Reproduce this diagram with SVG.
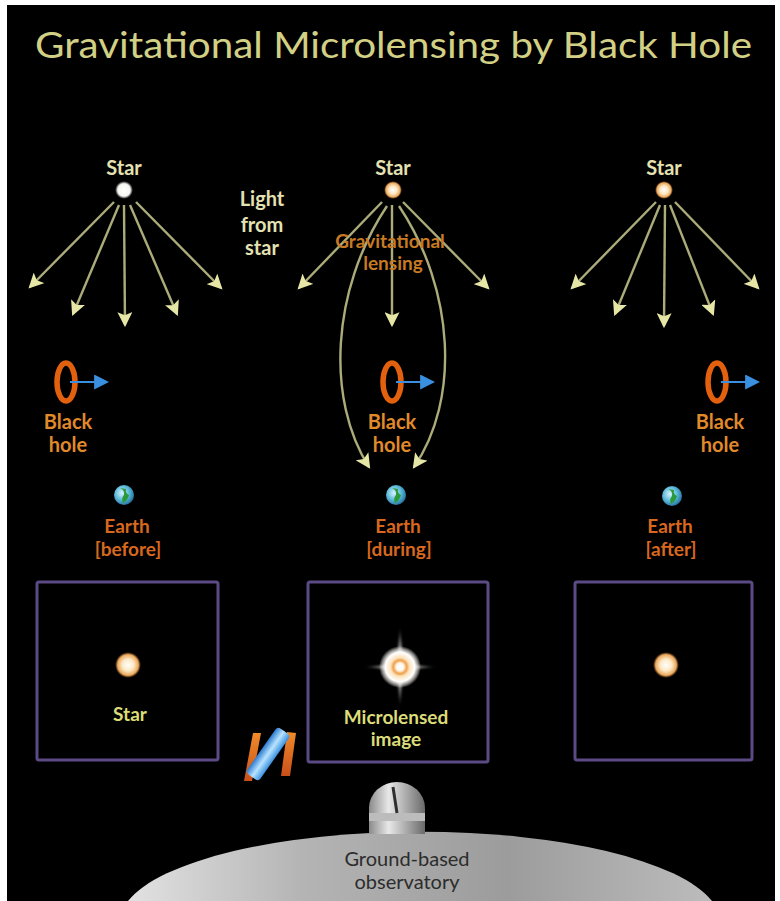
<svg xmlns="http://www.w3.org/2000/svg" width="780" height="901" viewBox="0 0 780 901">
  <defs>
    <style>
      .title { font-family: Lato, "Open Sans", "DejaVu Sans", sans-serif; font-size: 36px; fill: #d2d084; }
      .lbl { font-family: Lato, "Open Sans", "DejaVu Sans", sans-serif; font-weight: bold; text-anchor: middle; }
      .star-lbl { font-size: 20px; fill: #e4e2b2; }
      .bh-lbl { font-size: 20px; fill: #e08a2a; }
      .earth-lbl { font-size: 19px; fill: #d8681e; }
      .lens-lbl { font-size: 19px; fill: #c87a22; }
      .box-lbl { font-size: 19px; fill: #dcdc78; }
      .ray { fill: none; stroke: #acab7a; stroke-width: 2.4; marker-end: url(#tip); }
      .ring { fill: none; stroke: #e2600e; stroke-width: 5.5; }
      .move { stroke: #3a8fe0; stroke-width: 2; marker-end: url(#blueTip); }
      .frame { fill: none; stroke: #5c4a86; stroke-width: 3; }
      .ground-lbl { font-family: Lato, "Open Sans", "DejaVu Sans", sans-serif; font-size: 20px; fill: #2c2c2c; text-anchor: middle; }
    </style>
    <marker id="tip" viewBox="0 0 14 14" refX="12" refY="7" markerWidth="15" markerHeight="15" markerUnits="userSpaceOnUse" orient="auto">
      <path d="M0,0 L14,7 L0,14 L3,7 z" fill="#e6e6a6"/>
    </marker>
    <marker id="blueTip" viewBox="0 0 14 14" refX="12" refY="7" markerWidth="15" markerHeight="15" markerUnits="userSpaceOnUse" orient="auto">
      <path d="M0,0 L14,7 L0,14 z" fill="#3a8fe0"/>
    </marker>
    <radialGradient id="sunGlow" cx="50%" cy="50%" r="50%">
      <stop offset="0" stop-color="#ffffff"/>
      <stop offset="0.45" stop-color="#fde8c4"/>
      <stop offset="0.8" stop-color="#eaa85c"/>
      <stop offset="1" stop-color="#b86a2a" stop-opacity="0"/>
    </radialGradient>
    <radialGradient id="whiteGlow" cx="50%" cy="50%" r="50%">
      <stop offset="0" stop-color="#ffffff"/>
      <stop offset="0.7" stop-color="#f4f4f0"/>
      <stop offset="1" stop-color="#c8c8c0" stop-opacity="0"/>
    </radialGradient>
    <radialGradient id="earthFill" cx="40%" cy="40%" r="60%">
      <stop offset="0" stop-color="#d8f4ff"/>
      <stop offset="0.6" stop-color="#5ab8d8"/>
      <stop offset="1" stop-color="#2a7aa8"/>
    </radialGradient>
    <radialGradient id="burstCore" cx="50%" cy="50%" r="50%">
      <stop offset="0" stop-color="#ffffff"/>
      <stop offset="0.18" stop-color="#fff6e8"/>
      <stop offset="0.32" stop-color="#f0a048"/>
      <stop offset="0.45" stop-color="#fbe2bc"/>
      <stop offset="0.7" stop-color="#ffffff"/>
      <stop offset="0.85" stop-color="#f4f0ea" stop-opacity="0.6"/>
      <stop offset="1" stop-color="#ffffff" stop-opacity="0"/>
    </radialGradient>
    <linearGradient id="spikeV" x1="0" y1="0" x2="0" y2="1">
      <stop offset="0" stop-color="#ffffff" stop-opacity="0"/>
      <stop offset="0.5" stop-color="#ffffff"/>
      <stop offset="1" stop-color="#ffffff" stop-opacity="0"/>
    </linearGradient>
    <linearGradient id="spikeH" x1="0" y1="0" x2="1" y2="0">
      <stop offset="0" stop-color="#ffffff" stop-opacity="0"/>
      <stop offset="0.5" stop-color="#ffffff"/>
      <stop offset="1" stop-color="#ffffff" stop-opacity="0"/>
    </linearGradient>
    <linearGradient id="groundFill" x1="0" y1="0" x2="1" y2="0">
      <stop offset="0" stop-color="#e2e2e2"/>
      <stop offset="0.3" stop-color="#b4b4b4"/>
      <stop offset="0.65" stop-color="#9c9c9c"/>
      <stop offset="1" stop-color="#bcbcbc"/>
    </linearGradient>
    <linearGradient id="domeFill" x1="0" y1="0" x2="1" y2="0">
      <stop offset="0" stop-color="#8a8a8a"/>
      <stop offset="0.35" stop-color="#e8e8e8"/>
      <stop offset="1" stop-color="#6a6a6a"/>
    </linearGradient>
    <linearGradient id="tubeFill" x1="0" y1="0" x2="1" y2="0">
      <stop offset="0" stop-color="#2a7ad0"/>
      <stop offset="0.5" stop-color="#b8e4ff"/>
      <stop offset="1" stop-color="#3a90e0"/>
    </linearGradient>
    <linearGradient id="panelFill" x1="0" y1="0" x2="0" y2="1">
      <stop offset="0" stop-color="#f08a2a"/>
      <stop offset="1" stop-color="#c8501a"/>
    </linearGradient>
    <filter id="soft" x="-50%" y="-50%" width="200%" height="200%">
      <feGaussianBlur stdDeviation="1"/>
    </filter>
  </defs>

  <!-- backdrop -->
  <rect x="0" y="0" width="780" height="901" fill="#ffffff"/>
  <rect x="7" y="5" width="768" height="896" fill="#000000"/>

  <text class="title" x="35" y="58" textLength="717" lengthAdjust="spacingAndGlyphs">Gravitational Microlensing by Black Hole</text>

  <!-- light rays -->
  <g id="connectors">
    <!-- before -->
    <line class="ray" x1="114" y1="202" x2="30" y2="287"/>
    <line class="ray" x1="119" y1="205" x2="73" y2="314"/>
    <line class="ray" x1="124" y1="205" x2="125" y2="325"/>
    <line class="ray" x1="130" y1="205" x2="177" y2="314"/>
    <line class="ray" x1="136" y1="202" x2="221" y2="288"/>
    <!-- during -->
    <line class="ray" x1="382" y1="202" x2="299" y2="288"/>
    <path class="ray" d="M387,206 C331,290 326,400 369,467"/>
    <line class="ray" x1="392" y1="205" x2="392" y2="325"/>
    <path class="ray" d="M399,206 C455,290 460,400 414,467"/>
    <line class="ray" x1="403" y1="202" x2="488" y2="288"/>
    <!-- after -->
    <line class="ray" x1="656" y1="202" x2="572" y2="288"/>
    <line class="ray" x1="660" y1="205" x2="615" y2="314"/>
    <line class="ray" x1="665" y1="205" x2="664" y2="326"/>
    <line class="ray" x1="670" y1="205" x2="713" y2="314"/>
    <line class="ray" x1="675" y1="202" x2="758" y2="288"/>
  </g>

  <g id="star-before">
    <text class="lbl star-lbl" x="124" y="175">Star</text>
    <circle cx="124" cy="190" r="9" fill="url(#whiteGlow)"/>
  </g>
  <g id="star-during">
    <text class="lbl star-lbl" x="393" y="175">Star</text>
    <circle cx="393" cy="190" r="9" fill="url(#sunGlow)"/>
  </g>
  <g id="star-after">
    <text class="lbl star-lbl" x="664" y="175">Star</text>
    <circle cx="664" cy="190" r="9" fill="url(#sunGlow)"/>
  </g>

  <g id="light-label">
    <text class="lbl star-lbl" x="262" y="206">Light</text>
    <text class="lbl star-lbl" x="262" y="232">from</text>
    <text class="lbl star-lbl" x="262" y="255">star</text>
  </g>

  <g id="lensing-label">
    <text class="lbl lens-lbl" x="390" y="248">Gravitational</text>
    <text class="lbl lens-lbl" x="393" y="270">lensing</text>
  </g>

  <!-- black holes -->
  <g id="blackhole-before">
    <ellipse class="ring" cx="66" cy="382" rx="9" ry="19"/>
    <line class="move" x1="70" y1="382" x2="107" y2="382"/>
    <text class="lbl bh-lbl" x="68" y="429">Black</text>
    <text class="lbl bh-lbl" x="68" y="452">hole</text>
  </g>
  <g id="blackhole-during">
    <ellipse class="ring" cx="392" cy="382" rx="9" ry="19"/>
    <line class="move" x1="396" y1="382" x2="433" y2="382"/>
    <text class="lbl bh-lbl" x="392" y="429">Black</text>
    <text class="lbl bh-lbl" x="392" y="452">hole</text>
  </g>
  <g id="blackhole-after">
    <ellipse class="ring" cx="717" cy="382" rx="9" ry="19"/>
    <line class="move" x1="721" y1="382" x2="758" y2="382"/>
    <text class="lbl bh-lbl" x="720" y="429">Black</text>
    <text class="lbl bh-lbl" x="720" y="452">hole</text>
  </g>

  <!-- earth positions -->
  <g id="earth-before">
    <circle cx="124" cy="495" r="10" fill="url(#earthFill)"/>
    <path d="M120,488 q5,2 4,7 q-3,3 -1,8 q5,-3 6,-8 q-4,-2 -3,-6 z" fill="#2a9a3a"/>
    <text class="lbl earth-lbl" x="127" y="533">Earth</text>
    <text class="lbl earth-lbl" x="128" y="556">[before]</text>
  </g>
  <g id="earth-during">
    <circle cx="396" cy="495" r="10" fill="url(#earthFill)"/>
    <path d="M392,488 q5,2 4,7 q-3,3 -1,8 q5,-3 6,-8 q-4,-2 -3,-6 z" fill="#2a9a3a"/>
    <text class="lbl earth-lbl" x="398" y="533">Earth</text>
    <text class="lbl earth-lbl" x="399" y="556">[during]</text>
  </g>
  <g id="earth-after">
    <circle cx="672" cy="496" r="10" fill="url(#earthFill)"/>
    <path d="M668,489 q5,2 4,7 q-3,3 -1,8 q5,-3 6,-8 q-4,-2 -3,-6 z" fill="#2a9a3a"/>
    <text class="lbl earth-lbl" x="670" y="533">Earth</text>
    <text class="lbl earth-lbl" x="671" y="556">[after]</text>
  </g>

  <!-- observed views -->
  <g id="view-before">
    <rect class="frame" x="37" y="582" width="181" height="178" rx="2"/>
    <circle cx="128" cy="665" r="13" fill="url(#sunGlow)"/>
    <text class="lbl box-lbl" x="130" y="721" font-size="17">Star</text>
  </g>
  <g id="view-during">
    <rect class="frame" x="308" y="582" width="180" height="180" rx="2"/>
    <g filter="url(#soft)">
      <polygon points="400,626 403.5,664 400,708 396.5,664" fill="url(#spikeV)"/>
      <polygon points="364,667 400,663.5 436,667 400,670.5" fill="url(#spikeH)"/>
    </g>
    <circle cx="400" cy="667" r="21" fill="url(#burstCore)"/>
    <text class="lbl box-lbl" x="396" y="724">Microlensed</text>
    <text class="lbl box-lbl" x="396" y="746">image</text>
  </g>
  <g id="view-after">
    <rect class="frame" x="575" y="582" width="177" height="178" rx="2"/>
    <circle cx="666" cy="665" r="13" fill="url(#sunGlow)"/>
  </g>

  <!-- space telescope -->
  <g id="space-telescope">
    <polygon points="253,733 261,733 252,781 244,781" fill="url(#panelFill)"/>
    <polygon points="287,732 296,733 290,776 281,776" fill="url(#panelFill)"/>
    <rect x="-8" y="-28" width="16" height="56" rx="4" fill="url(#tubeFill)" transform="translate(268,754) rotate(35)"/>
  </g>

  <!-- ground-based observatory -->
  <g id="observatory">
    <path d="M128,901 A300,90 0 0 1 712,901 Z" fill="url(#groundFill)"/>
    <path d="M369,834 L369,808 A28,26 0 0 1 425,808 L425,834 Z" fill="url(#domeFill)"/>
    <rect x="369" y="813" width="56" height="8" fill="#bcbcbc"/>
    <path d="M393,787 L397,813" stroke="#303030" stroke-width="3" fill="none"/>
    <text class="ground-lbl" x="407" y="866">Ground-based</text>
    <text class="ground-lbl" x="407" y="889">observatory</text>
  </g>
</svg>
